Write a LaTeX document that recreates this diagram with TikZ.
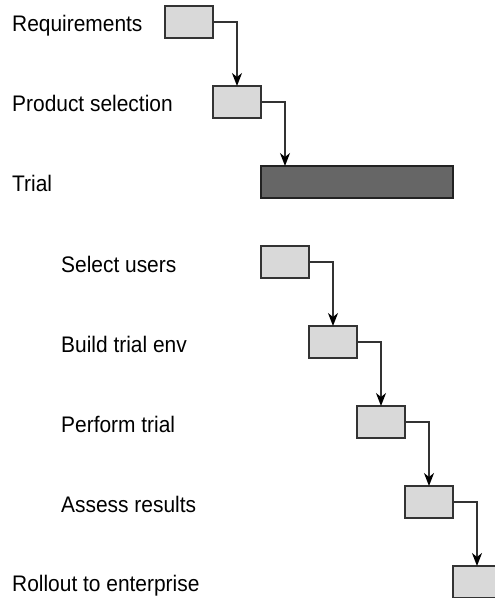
\documentclass[tikz,border=0pt]{standalone}
\usepackage{fontspec}
\setmainfont{Liberation Sans}[FakeStretch=0.93]
\usetikzlibrary{arrows.meta}
\definecolor{boxfill}{HTML}{D9D9D9}
\definecolor{boxline}{HTML}{333333}
\definecolor{barfill}{HTML}{666666}
\definecolor{barline}{HTML}{222222}
\tikzset{
  taskbox/.style={draw=boxline, fill=boxfill, line width=1.4pt, minimum width=48pt, minimum height=32pt, inner sep=0pt, outer sep=0pt, anchor=north west},
  summarybar/.style={draw=barline, fill=barfill, line width=1.6pt, minimum width=192pt, minimum height=32pt, inner sep=0pt, outer sep=0pt, anchor=north west},
  lbl/.style={anchor=base west, inner sep=0pt, font=\fontsize{22.5}{26}\selectfont},
  link/.style={draw=boxline, line width=1.5pt, -{Stealth[length=13pt,width=10pt,inset=4pt,color=black]}}
}
\begin{document}
\begin{tikzpicture}[x=1pt,y=-1pt]
\clip (0,0) rectangle (495,598);
\fill[white] (0,0) rectangle (495,598);
% labels
\node[lbl] (l1) at (12,31.5) {Requirements};
\node[lbl] (l2) at (12,111.5) {Product selection};
\node[lbl] (l3) at (12,191.5) {Trial};
\node[lbl] (l4) at (61,272.5) {Select users};
\node[lbl] (l5) at (61,352.5) {Build trial env};
\node[lbl] (l6) at (61,432.5) {Perform trial};
\node[lbl] (l7) at (61,512.5) {Assess results};
\node[lbl] (l8) at (12,591) {Rollout to enterprise};
% boxes
\node[taskbox] (b1) at (165,6) {};
\node[taskbox] (b2) at (213,86) {};
\node[summarybar] (tr) at (261,166) {};
\coordinate (trin) at (285,166);
\node[taskbox] (s1) at (261,246) {};
\node[taskbox] (s2) at (309,326) {};
\node[taskbox] (s3) at (357,406) {};
\node[taskbox] (s4) at (405,486) {};
\node[taskbox] (s5) at (453,566) {};
% connectors
\draw[link] (b1.east) -| (b2.north);
\draw[link] (b2.east) -| (trin);
\draw[link] (s1.east) -| (s2.north);
\draw[link] (s2.east) -| (s3.north);
\draw[link] (s3.east) -| (s4.north);
\draw[link] (s4.east) -| (s5.north);
\end{tikzpicture}
\end{document}
